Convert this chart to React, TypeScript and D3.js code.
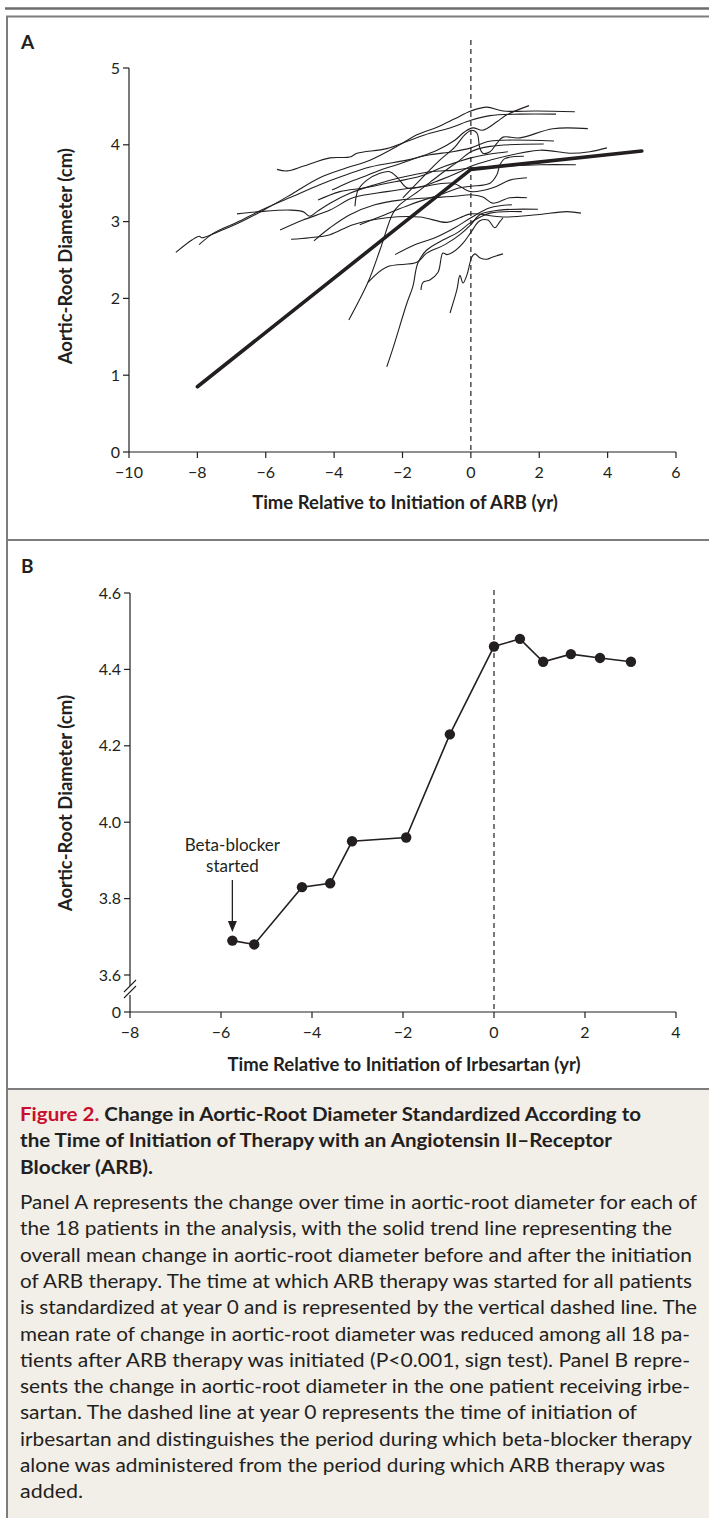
import { useEffect, useRef } from "react"
import * as d3 from "d3"

const W = 709
const H = 1518
const FONT = "Lato, 'Open Sans', sans-serif"
const INK = "#231f20"

// Panel A: aortic-root diameter (cm) of each patient vs. years from start of ARB
const p01 = [[-8.63, 2.6], [-8.16, 2.76], [-7.95, 2.81], [-7.87, 2.79], [-7.49, 2.85], [-6.75, 2.99], [-6.02, 3.16], [-5.23, 3.36], [-4.42, 3.57], [-3.63, 3.7], [-2.95, 3.8], [-2.08, 4.0], [-1.58, 4.13], [-0.99, 4.23], [-0.47, 4.34], [0, 4.44], [0.47, 4.49], [0.94, 4.44], [1.93, 4.44], [3.04, 4.43]]
const p02 = [[-7.95, 2.7], [-7.49, 2.86], [-6.84, 2.99], [-6.17, 3.14], [-5.2, 3.33], [-4.42, 3.48], [-3.83, 3.58], [-2.95, 3.71], [-1.87, 3.8], [-1.2, 3.87], [-0.53, 3.91], [0, 3.96], [0.47, 4.04], [0.94, 4.06], [2.43, 4.05]]
const p03 = [[-6.84, 3.1], [-6.17, 3.13], [-5.29, 3.15], [-4.91, 3.13], [-4.71, 3.07], [-4.5, 3.13], [-4.12, 3.24], [-3.54, 3.37], [-2.81, 3.48], [-2.08, 3.57], [-1.2, 3.65], [-0.47, 3.67], [0, 3.7], [0.85, 3.72], [2.02, 3.74], [3.07, 3.74]]
const p04 = [[-5.67, 3.68], [-5.38, 3.66], [-4.91, 3.72], [-4.12, 3.83], [-3.54, 3.84], [-3.33, 3.89], [-2.46, 3.95], [-1.78, 4.06], [-1.2, 4.15], [-0.61, 4.22], [0, 4.32], [0.56, 4.38], [1.43, 4.4], [2.49, 4.4]]
const p05 = [[-5.58, 2.89], [-4.91, 3.02], [-4.12, 3.15], [-3.45, 3.31], [-2.46, 3.39], [-1.49, 3.45], [-0.53, 3.5], [0, 3.39], [0.64, 3.44], [1.14, 3.54], [1.64, 3.57]]
const p06 = [[-5.26, 2.77], [-4.71, 2.79], [-4.12, 2.83], [-3.45, 2.96], [-2.46, 3.05], [-1.49, 3.06], [-0.7, 2.99], [-0.32, 3.05], [0, 3.1], [0.94, 3.06], [1.93, 3.09], [2.81, 3.13], [3.22, 3.11]]
const p07 = [[-4.59, 2.75], [-4.12, 2.92], [-3.54, 3.09], [-2.81, 3.22], [-2.08, 3.28], [-1.2, 3.31], [-0.47, 3.33], [0, 3.35], [0.35, 3.32], [0.64, 3.24], [1.14, 3.31], [1.64, 3.31]]
const p08 = [[-3.57, 1.72], [-3.01, 2.21], [-2.66, 2.63], [-2.28, 3.11], [-2.08, 3.22], [-1.49, 3.41], [-0.91, 3.61], [-0.32, 3.8], [0, 3.91], [0.56, 3.98], [2.13, 4.01]]
const p09 = [[-3.01, 2.21], [-2.46, 2.41], [-1.58, 2.47], [-1.29, 2.59], [-0.76, 2.7], [-0.32, 2.83], [0, 2.96], [0.26, 3.09], [0.85, 3.15], [1.96, 3.16]]
const p10 = [[-2.46, 1.11], [-2.28, 1.35], [-1.87, 1.94], [-1.7, 2.15], [-1.55, 2.46], [-1.29, 2.63], [-0.82, 2.76], [-0.38, 2.86], [0, 2.99], [0.56, 3.11], [1.49, 3.13]]
const p11 = [[-1.46, 2.11], [-1.4, 2.21], [-1.2, 2.24], [-0.96, 2.34], [-0.82, 2.59], [-0.7, 2.57], [-0.53, 2.6], [-0.23, 2.72], [0, 2.86], [0.26, 3.01], [0.5, 3.02], [0.7, 2.92], [0.85, 3.0], [0.94, 3.05]]
const p12 = [[-0.61, 1.81], [-0.41, 2.11], [-0.32, 2.3], [-0.23, 2.2], [-0.12, 2.3], [0.03, 2.54], [0.12, 2.58], [0.26, 2.53], [0.47, 2.51], [0.64, 2.54], [0.94, 2.58]]
const p13 = [[-3.39, 3.2], [-3.3, 3.41], [-3.04, 3.54], [-2.66, 3.63], [-2.37, 3.65], [-2.16, 3.58], [-1.87, 3.44], [-1.49, 3.45], [-0.91, 3.54], [-0.32, 3.65], [0, 3.72], [0.56, 3.8], [2.02, 3.93], [2.89, 3.89], [3.48, 3.91], [3.98, 3.96]]
const p14 = [[-1.99, 3.31], [-1.49, 3.54], [-0.91, 3.8], [-0.47, 3.97], [-0.18, 4.13], [0.03, 4.19], [0.18, 4.15], [0.26, 3.96], [0.35, 3.89], [0.56, 3.91], [0.76, 4.02], [0.94, 4.1], [1.43, 4.09], [2.4, 4.21], [3.42, 4.21]]
const p15 = [[-4.06, 3.41], [-3.63, 3.5], [-3.16, 3.58], [-2.66, 3.67], [-2.16, 3.74], [-1.58, 3.83], [-0.99, 3.93], [-0.47, 4.06], [-0.18, 4.17], [0.06, 4.22], [0.35, 4.19], [0.76, 4.3], [1.05, 4.39], [1.7, 4.51]]
const p16 = [[-3.25, 2.96], [-2.51, 3.09], [-1.78, 3.22], [-0.91, 3.35], [-0.32, 3.44], [0, 3.46], [0.56, 3.5], [0.76, 3.61], [0.85, 3.74], [0.99, 3.82], [1.55, 3.85]]
const p17 = [[-4.47, 3.28], [-3.83, 3.39], [-3.1, 3.44], [-2.22, 3.52], [-1.49, 3.59], [-0.76, 3.72], [0, 3.83], [0.56, 3.88], [1.08, 3.91]]
const p18 = [[-2.22, 2.57], [-1.64, 2.7], [-1.05, 2.79], [-0.47, 2.92], [0, 3.05], [0.56, 3.18], [1.2, 3.22]]
const patients = [p01, p02, p03, p04, p05, p06, p07, p08, p09, p10, p11, p12, p13, p14, p15, p16, p17, p18]

const trendYears = [-8, 0, 5]
const trendDiam = [0.85, 3.68, 3.92]
const ticksAx = [-10, -8, -6, -4, -2, 0, 2, 4, 6]
const ticksAy = [0, 1, 2, 3, 4, 5]

// Panel B: the one patient on irbesartan
const irbYears = [-5.75, -5.27, -4.22, -3.6, -3.12, -1.93, -0.97, 0, 0.57, 1.08, 1.69, 2.33, 3.01]
const irbDiam = [3.69, 3.68, 3.83, 3.84, 3.95, 3.96, 4.23, 4.46, 4.48, 4.42, 4.44, 4.43, 4.42]
const ticksBx = [-8, -6, -4, -2, 0, 2, 4]
const ticksBy = [0, 3.6, 3.8, 4.0, 4.2, 4.4, 4.6]

const captionTitle = [
  "Change in Aortic-Root Diameter Standardized According to",
  "the Time of Initiation of Therapy with an Angiotensin II\u2013Receptor",
  "Blocker (ARB).",
]
// right edge of each caption line as it sits in the figure
const captionTitleEnds = [641, 612, 153]
const captionBody = [
  "Panel A represents the change over time in aortic-root diameter for each of",
  "the 18 patients in the analysis, with the solid trend line representing the",
  "overall mean change in aortic-root diameter before and after the initiation",
  "of ARB therapy. The time at which ARB therapy was started for all patients",
  "is standardized at year 0 and is represented by the vertical dashed line. The",
  "mean rate of change in aortic-root diameter was reduced among all 18 pa-",
  "tients after ARB therapy was initiated (P<0.001, sign test). Panel B repre-",
  "sents the change in aortic-root diameter in the one patient receiving irbe-",
  "sartan. The dashed line at year 0 represents the time of initiation of",
  "irbesartan and distinguishes the period during which beta-blocker therapy",
  "alone was administered from the period during which ARB therapy was",
  "added.",
]
const captionBodyEnds = [697, 672, 692, 692, 697, 690, 690, 690, 637, 692, 665, 83]

const fmt = (v) => (v < 0 ? "\u2212" + Math.abs(v) : String(v))

export default function App() {
  const svgRef = useRef(null)

  useEffect(() => {
    document.body.style.margin = "0"
    const svg = d3.select(svgRef.current)
    svg.selectAll("*").remove()
    svg.style("font-family", FONT)

    // frame and caption box
    svg.append("rect").attr("width", W).attr("height", H).attr("fill", "#fff")
    svg.append("rect").attr("x", 7).attr("y", 1089).attr("width", W - 7).attr("height", H - 1089).attr("fill", "#f2eee8")
    svg.append("line").attr("x1", 5).attr("x2", W).attr("y1", 8.5).attr("y2", 8.5).attr("stroke", "#6e6e6e").attr("stroke-width", 2.5)
    const rules = [16.5, 540, 1089]
    rules.forEach((y) =>
      svg.append("line").attr("x1", 6).attr("x2", W).attr("y1", y).attr("y2", y).attr("stroke", "#7d7d7d").attr("stroke-width", 2)
    )
    svg.append("line").attr("x1", 7).attr("x2", 7).attr("y1", 16).attr("y2", H).attr("stroke", "#7d7d7d").attr("stroke-width", 2)

    svg.append("text").attr("x", 21).attr("y", 49).attr("font-weight", 700).attr("font-size", 19).attr("fill", INK).text("A")
    svg.append("text").attr("x", 21).attr("y", 573).attr("font-weight", 700).attr("font-size", 19).attr("fill", INK).text("B")

    const drawAxes = (x, y, xt, yt, yFmt) => {
      const g = svg.append("g").attr("stroke", INK).attr("stroke-width", 1.2)
      const x0 = x.range()[0]
      const y0 = y(yt[0])
      g.append("line").attr("x1", x0).attr("x2", x.range()[1]).attr("y1", y0).attr("y2", y0)
      xt.forEach((t) => {
        g.append("line").attr("x1", x(t)).attr("x2", x(t)).attr("y1", y0).attr("y2", y0 + 6)
        svg.append("text").attr("x", x(t)).attr("y", y0 + 26).attr("text-anchor", "middle")
          .attr("font-size", 16).attr("fill", INK).text(fmt(t))
      })
      yt.forEach((t) => {
        g.append("line").attr("x1", x0 - 6).attr("x2", x0).attr("y1", y(t)).attr("y2", y(t))
        svg.append("text").attr("x", x0 - 9).attr("y", y(t)).attr("dy", "0.35em").attr("text-anchor", "end")
          .attr("font-size", 16).attr("fill", INK).text(yFmt(t))
      })
      return g
    }

    // ---- Panel A
    const xA = d3.scaleLinear().domain([-10, 6]).range([129, 676])
    const yA = d3.scaleLinear().domain([0, 5]).range([452, 68])
    const gA = drawAxes(xA, yA, ticksAx, ticksAy, (t) => String(t))
    gA.append("line").attr("x1", 129).attr("x2", 129).attr("y1", yA(5)).attr("y2", yA(0))

    svg.append("line").attr("x1", xA(0)).attr("x2", xA(0)).attr("y1", 40).attr("y2", yA(0))
      .attr("stroke", INK).attr("stroke-width", 1.2).attr("stroke-dasharray", "5,4")

    const lineA = d3.line().x((d) => xA(d[0])).y((d) => yA(d[1])).curve(d3.curveCatmullRom.alpha(0.5))
    svg.append("g").selectAll("path").data(patients).enter().append("path")
      .attr("d", (d) => lineA(d)).attr("fill", "none").attr("stroke", INK).attr("stroke-width", 1.1)

    const trend = trendYears.map((t, i) => [t, trendDiam[i]])
    svg.append("path").attr("d", d3.line().x((d) => xA(d[0])).y((d) => yA(d[1]))(trend))
      .attr("fill", "none").attr("stroke", INK).attr("stroke-width", 3.6).attr("stroke-linecap", "round")

    svg.append("text").attr("x", 405).attr("y", 509).attr("text-anchor", "middle").attr("font-weight", 700)
      .attr("font-size", 18.5).attr("fill", INK).text("Time Relative to Initiation of ARB (yr)")
    svg.append("text").attr("transform", `translate(72,${yA(2.55)}) rotate(-90)`).attr("text-anchor", "middle")
      .attr("font-weight", 700).attr("font-size", 18.5).attr("fill", INK).text("Aortic-Root Diameter (cm)")

    // ---- Panel B (broken y axis between 0 and 3.6)
    const xB = d3.scaleLinear().domain([-8, 4]).range([130, 676])
    const yB = d3.scaleLinear().domain([0, 3.6, 4.6]).range([1012, 975, 593])
    const gB = drawAxes(xB, yB, ticksBx, ticksBy, (t) => (t === 0 ? "0" : t.toFixed(1)))
    gB.append("line").attr("x1", 130).attr("x2", 130).attr("y1", yB(4.6)).attr("y2", 986)
    gB.append("line").attr("x1", 130).attr("x2", 130).attr("y1", 995).attr("y2", yB(0))
    const brk = svg.append("g").attr("stroke", INK).attr("stroke-width", 1.1)
    brk.append("line").attr("x1", 124).attr("y1", 992).attr("x2", 136).attr("y2", 980)
    brk.append("line").attr("x1", 124).attr("y1", 998).attr("x2", 136).attr("y2", 986)

    svg.append("line").attr("x1", xB(0)).attr("x2", xB(0)).attr("y1", 590).attr("y2", yB(0))
      .attr("stroke", INK).attr("stroke-width", 1.2).attr("stroke-dasharray", "5,4")

    const irb = irbYears.map((t, i) => [t, irbDiam[i]])
    svg.append("path").attr("d", d3.line().x((d) => xB(d[0])).y((d) => yB(d[1]))(irb))
      .attr("fill", "none").attr("stroke", INK).attr("stroke-width", 1.6)
    svg.append("g").selectAll("circle").data(irb).enter().append("circle")
      .attr("cx", (d) => xB(d[0])).attr("cy", (d) => yB(d[1])).attr("r", 5.2).attr("fill", INK)

    const ax = xB(irbYears[0])
    svg.append("text").attr("x", ax).attr("y", 851).attr("text-anchor", "middle").attr("font-size", 17)
      .attr("fill", INK).text("Beta-blocker")
    svg.append("text").attr("x", ax).attr("y", 872).attr("text-anchor", "middle").attr("font-size", 17)
      .attr("fill", INK).text("started")
    svg.append("line").attr("x1", ax).attr("x2", ax).attr("y1", 880).attr("y2", 924).attr("stroke", INK).attr("stroke-width", 1.3)
    svg.append("path").attr("d", `M${ax - 4.5},921 L${ax + 4.5},921 L${ax},932 Z`).attr("fill", INK)

    svg.append("text").attr("x", 404).attr("y", 1071).attr("text-anchor", "middle").attr("font-weight", 700)
      .attr("font-size", 18.5).attr("fill", INK).text("Time Relative to Initiation of Irbesartan (yr)")
    svg.append("text").attr("transform", `translate(72,${yB(4.05)}) rotate(-90)`).attr("text-anchor", "middle")
      .attr("font-weight", 700).attr("font-size", 18.5).attr("fill", INK).text("Aortic-Root Diameter (cm)")

    // ---- Caption
    const cx = 20
    const cap = svg.append("g").attr("font-size", 19.5).attr("fill", INK)
    captionTitle.forEach((s, i) => {
      const t = cap.append("text").attr("x", cx).attr("y", 1121 + i * 26.3).attr("font-weight", 700)
        .attr("textLength", captionTitleEnds[i] - cx).attr("lengthAdjust", "spacingAndGlyphs")
      if (i === 0) {
        t.append("tspan").attr("fill", "#c8102e").text("Figure 2. ")
      }
      t.append("tspan").text(s)
    })
    captionBody.forEach((s, i) => {
      cap.append("text").attr("x", cx).attr("y", 1209 + i * 26.3)
        .attr("textLength", captionBodyEnds[i] - cx).attr("lengthAdjust", "spacingAndGlyphs").text(s)
    })
  }, [])

  return <svg ref={svgRef} width={W} height={H} style={{ display: "block" }} />
}
